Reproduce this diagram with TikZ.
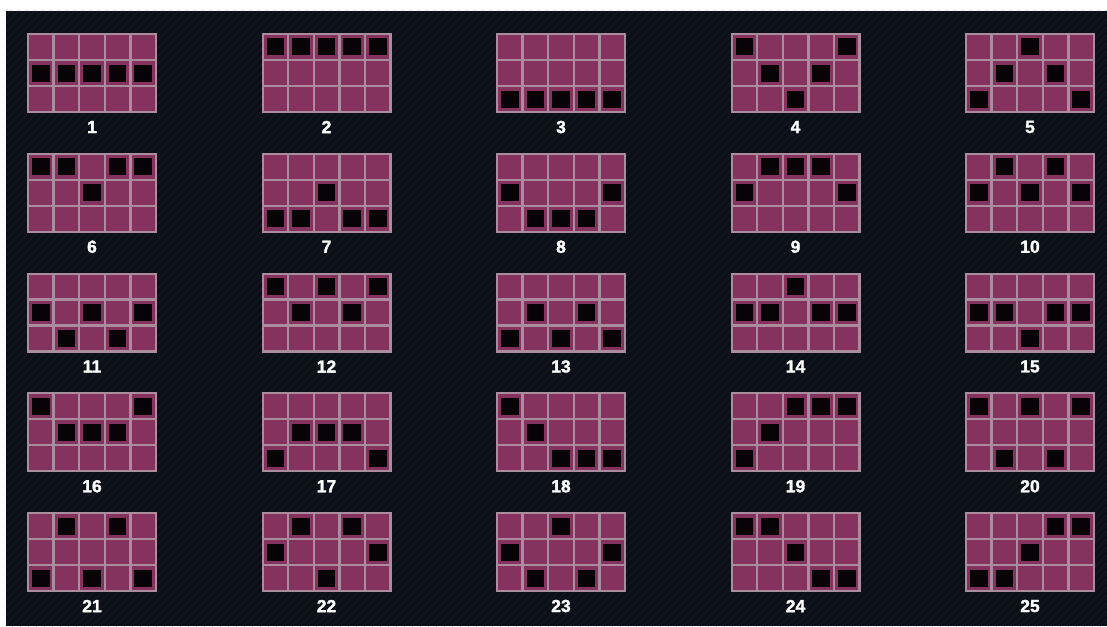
\documentclass[tikz,border=0pt]{standalone}
\usepackage{fontspec}
\setmainfont{Liberation Sans}
\newfontfamily\lblfont[BoldFeatures={FakeBold=1.6}]{Liberation Sans}
\definecolor{bgc}{HTML}{0C0F17}
\definecolor{stripec}{HTML}{12161F}
\definecolor{gridlinec}{HTML}{A98C9E}
\definecolor{cellc}{HTML}{85325F}
\definecolor{markc}{HTML}{070306}
\tikzset{
  gridframe/.style={fill=gridlinec, draw=none, inner sep=0pt, minimum width=130pt, minimum height=80pt},
  cellbox/.style={fill=cellc},
  markbox/.style={fill=markc},
  numlabel/.style={text=white, font=\fontsize{17.5}{17.5}\lblfont\bfseries, inner sep=0pt}
}
\begin{document}
\begin{tikzpicture}[x=1pt,y=-1pt]
\useasboundingbox (0,0) rectangle (1107,626);
\fill[white] (0,0) rectangle (1107,626);
\fill[bgc] (6,11) rectangle (1107,626);
\begin{scope}
\clip (6,11) rectangle (1107,626);
\foreach \s in {-620,-612,...,1110}
  \draw[stripec, line width=1.2pt] (\s,626) -- (\s+615,11);
\end{scope}
\foreach \n/\a/\b/\c/\d/\e in {
  1/1/1/1/1/1, 2/0/0/0/0/0, 3/2/2/2/2/2, 4/0/1/2/1/0, 5/2/1/0/1/2,
  6/0/0/1/0/0, 7/2/2/1/2/2, 8/1/2/2/2/1, 9/1/0/0/0/1, 10/1/0/1/0/1,
  11/1/2/1/2/1, 12/0/1/0/1/0, 13/2/1/2/1/2, 14/1/1/0/1/1, 15/1/1/2/1/1,
  16/0/1/1/1/0, 17/2/1/1/1/2, 18/0/1/2/2/2, 19/2/1/0/0/0, 20/0/2/0/2/0,
  21/2/0/2/0/2, 22/1/0/2/0/1, 23/1/2/0/2/1, 24/0/0/1/2/2, 25/2/2/1/0/0} {
  \pgfmathtruncatemacro{\gc}{mod(\n-1,5)}
  \pgfmathtruncatemacro{\gr}{div(\n-1,5)}
  \pgfmathsetmacro{\L}{28+\gc*234.5}
  \pgfmathsetmacro{\T}{34+\gr*119.75}
  \node[gridframe] (g\n) at (\L+64,\T+39) {};
  \foreach \k in {0,...,4}
    \foreach \r in {0,1,2}
      \fill[cellbox] (\L+\k*25.6+1.2,\T+\r*26+1.2) rectangle (\L+\k*25.6+25.6-1.2,\T+\r*26+26-1.2);
  \foreach \k/\r in {0/\a,1/\b,2/\c,3/\d,4/\e}
    \fill[markbox] (\L+\k*25.6+12.8-8.8,\T+\r*26+13-8.5) rectangle (\L+\k*25.6+12.8+8.8,\T+\r*26+13+8.5);
  \node[numlabel] (lbl\n) at (\L+64,\T+93) {\n};
}
\end{tikzpicture}
\end{document}
